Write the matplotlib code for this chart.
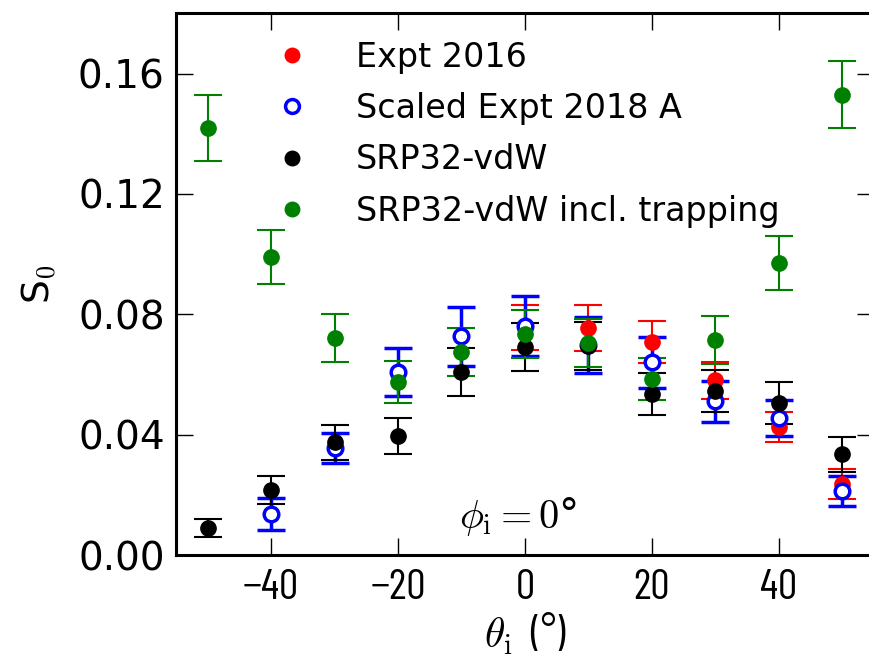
import numpy as np
import matplotlib
matplotlib.use("Agg")
import matplotlib.pyplot as plt

# incidence angles (deg)
theta = [-50, -40, -30, -20, -10, 0, 10, 20, 30, 40, 50]

# Expt 2016 (only 0..50)
theta_e16 = [0, 10, 20, 30, 40, 50]
s0_e16 = [0.0755, 0.0754, 0.0707, 0.058, 0.0425, 0.0235]
err_e16 = [0.0075, 0.0077, 0.007, 0.006, 0.005, 0.005]

# Scaled Expt 2018 A
theta_e18 = [-40, -30, -20, -10, 0, 10, 20, 30, 40, 50]
s0_e18 = [0.0136, 0.0355, 0.0608, 0.0727, 0.076, 0.0697, 0.064, 0.0511, 0.0455, 0.0212]
err_e18 = [0.0052, 0.005, 0.008, 0.0098, 0.010, 0.0093, 0.0085, 0.0068, 0.006, 0.005]

# SRP32-vdW
s0_srp = [0.009, 0.0216, 0.0375, 0.0395, 0.0608, 0.069, 0.0694, 0.0535, 0.0544, 0.0505, 0.0335]
err_srp = [0.003, 0.0045, 0.0058, 0.006, 0.008, 0.008, 0.008, 0.007, 0.007, 0.007, 0.0058]

# SRP32-vdW incl. trapping
s0_trap = [0.142, 0.099, 0.072, 0.0574, 0.0674, 0.0734, 0.0704, 0.0584, 0.0714, 0.097, 0.153]
err_trap = [0.011, 0.009, 0.008, 0.007, 0.008, 0.008, 0.008, 0.007, 0.008, 0.009, 0.011]

labels = ['Expt 2016', 'Scaled Expt 2018 A', 'SRP32-vdW', 'SRP32-vdW incl. trapping']

plt.rcParams['mathtext.fontset'] = 'cm'
plt.rcParams['font.family'] = 'DejaVu Sans'

fig = plt.figure(figsize=(8.69, 6.59), dpi=100)
ax = fig.add_axes([0.2025, 0.1578, 0.803, 0.822])

h1 = ax.errorbar(theta_e16, s0_e16, yerr=err_e16, fmt='o', color='red', ms=11,
                 elinewidth=1.5, capsize=10, capthick=1.5, mec='red')
h2 = ax.errorbar(theta_e18, s0_e18, yerr=err_e18, fmt='o', color='blue', ms=10.5,
                 mfc='white', mec='blue', mew=2.5, elinewidth=2.5, capsize=10, capthick=2.5)
h3 = ax.errorbar(theta, s0_srp, yerr=err_srp, fmt='o', color='black', ms=11,
                 elinewidth=1.5, capsize=10, capthick=1.5)
h4 = ax.errorbar(theta, s0_trap, yerr=err_trap, fmt='o', color='green', ms=11,
                 elinewidth=1.5, capsize=10, capthick=1.5, mec='green')

ax.set_xlim(-55, 55)
ax.set_ylim(0, 0.18)
ax.set_xticks([-40, -20, 0, 20, 40])
ax.set_xticklabels(['\u221240', '\u221220', '0', '20', '40'],
                   family='Barlow Condensed', fontsize=31)
ax.set_yticks([0.0, 0.04, 0.08, 0.12, 0.16])
ax.set_yticklabels(['0.00', '0.04', '0.08', '0.12', '0.16'], fontsize=28)
ax.tick_params(direction='in', length=12, width=1, top=True, right=True)
ax.tick_params(axis='x', pad=10)
ax.tick_params(axis='y', pad=8)
for sp in ax.spines.values():
    sp.set_linewidth(2.2)

ax.set_ylabel(r'S$_0$', fontsize=27, labelpad=14)
ax.set_xlabel(r'$\theta_{\rm i}$  (°)', fontsize=30, family='Barlow Condensed', labelpad=2)

ax.text(-1, 0.009, r'$\phi_{\rm i} = 0$°', fontsize=29, ha='center')

ax.legend([h1[0], h2[0], h3[0], h4[0]], labels,
          loc='upper left', bbox_to_anchor=(0.1, 1.005), frameon=False, numpoints=1,
          fontsize=24, handlelength=1.0, handletextpad=1.4, labelspacing=0.55,
          markerscale=0.95)

fig.savefig('out.png', dpi=100)
